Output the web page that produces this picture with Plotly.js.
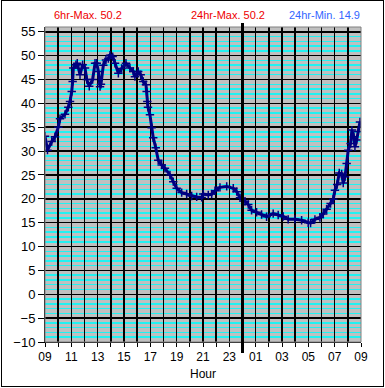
<!DOCTYPE html>
<html>
<head>
<meta charset="utf-8">
<script src="https://cdn.plot.ly/plotly-3.0.1.min.js"></script>
<style>
  html, body { margin:0; padding:0; background:#fff; }
  #chart { position:absolute; left:0; top:0; width:385px; height:388px; }
  #frame { position:absolute; left:1px; top:0; width:383px; height:387px; box-sizing:border-box; border:1px solid #000; pointer-events:none; }
</style>
</head>
<body>
<div id="chart"></div>
<div id="frame"></div>
<script>
// hours since 09:00
const hours = [0,0.19,0.51,0.76,1.01,1.14,1.52,1.77,1.90,2.03,2.10,2.15,2.35,2.45,2.66,2.86,3.04,3.17,3.36,3.62,3.80,3.93,4.05,4.18,4.25,4.43,4.63,4.81,4.94,5.14,5.32,5.57,5.82,6.15,6.45,6.70,6.83,7.08,7.27,7.46,7.67,7.72,7.77,7.82,7.97,8.10,8.22,8.41,8.60,8.86,9.11,9.49,9.74,10.0,10.38,10.76,11.14,11.52,11.90,12.02,12.40,12.66,12.91,13.29,13.80,14.30,14.56,14.81,15.19,15.44,15.69,16.07,16.45,16.83,17.33,17.71,18.09,18.47,18.98,19.49,19.99,20.17,20.50,20.88,21.13,21.39,21.69,21.89,22.02,22.19,22.35,22.53,22.65,22.78,22.91,23.03,23.21,23.31,23.46,23.54,23.67,23.79,23.92];
const temps = [33.1,30.2,32,33,35,36.8,37.7,39.2,40.4,42.5,44.6,47.4,48.1,48.4,46,48.1,47.4,45,43.6,45,48.4,48.4,46.7,43.5,44,48,49.1,49.4,50.1,49.8,48.4,46.3,47.3,48.4,47.4,46.7,45.6,46.7,46,44.6,43.9,42.5,40.4,39.2,37.6,34.9,32.8,30.7,28.1,27.1,26.4,25,23.6,22.2,21.3,21.0,20.6,20.4,20.3,21,20.8,21,21.7,22.4,22.6,22.2,21.5,20.2,19.5,18.8,17.6,17.2,16.7,16.25,16.9,16.6,16.3,15.7,15.7,15.5,15.0,14.9,15.7,16.1,16.8,17.8,19.0,19.9,21.8,23,25.4,25.2,23.3,24.6,27.4,30.2,31.6,34.4,33,30.9,32.3,34.1,36.1];

const tickHours = [0,1,2,3,4,5,6,7,8,9,10,11,12,13,14,15,16,17,18,19,20,21,22,23,24];
const tickLabels = ['09','','11','','13','','15','','17','','19','','21','','23','','01','','03','','05','','07','','09'];
const headerTexts = ['6hr-Max. 50.2','24hr-Max. 50.2','24hr-Min. 14.9'];
const headerColors = ['#EE0000','#EE0000','#3366FF'];
const headerPos = [0.135, 0.58, 0.883];
const midnightHour = 15;

const trace = {
  x: hours, y: temps, type:'scatter', mode:'lines+markers',
  line:{color:'#000080', width:3},
  marker:{symbol:'cross-thin', size:6, color:'#000080', line:{width:1.5, color:'#000080'}},
  hoverinfo:'skip'
};

const annotations = headerTexts.map((t,i)=>({
  text:t, xref:'paper', yref:'paper', x:headerPos[i], y:1+ (27-15)/315, xanchor:'center', yanchor:'middle',
  showarrow:false, font:{family:'Liberation Sans, Arial', size:11, color:headerColors[i]}
}));

const layout = {
  width:385, height:388,
  margin:{l:45, r:24, t:27, b:46},
  paper_bgcolor:'#ffffff', plot_bgcolor:'#C0C0C0',
  font:{family:'Liberation Sans, Arial', color:'#000'},
  showlegend:false,
  xaxis:{
    range:[0,24], tickvals:tickHours, ticktext:tickLabels,
    ticks:'outside', ticklen:4, tickcolor:'#000', tickwidth:1,
    showgrid:true, gridcolor:'#000', gridwidth:1.5,
    showline:true, linecolor:'#000', linewidth:1, zeroline:false,
    tickfont:{size:12, family:'Liberation Sans, Arial'},
    title:{text:'Hour', font:{size:12, family:'Liberation Sans, Arial'}, standoff:6},
    fixedrange:true
  },
  yaxis:{
    range:[-10,56], tick0:-10, dtick:5,
    ticks:'outside', ticklen:6, tickcolor:'#000', tickwidth:1,
    showgrid:true, gridcolor:'#000', gridwidth:1.5,
    minor:{dtick:1, tick0:0, showgrid:true, gridcolor:'#22F2F2', gridwidth:1.5, ticks:''},
    showline:true, linecolor:'#000', linewidth:1, zeroline:false,
    tickfont:{size:13, family:'Liberation Sans, Arial'},
    fixedrange:true
  },
  shapes:[
    {type:'rect', xref:'paper', yref:'paper', x0:0, x1:1, y0:0, y1:1, line:{color:'#808080', width:1}, layer:'above'},
    {type:'line', xref:'paper', yref:'paper', x0:midnightHour/24, x1:midnightHour/24, y0:-11/315, y1:1+4/315, line:{color:'#000', width:3}, layer:'above'}
  ],
  annotations:annotations
};

Plotly.newPlot('chart', [trace], layout, {staticPlot:true, displayModeBar:false});
</script>
</body>
</html>
